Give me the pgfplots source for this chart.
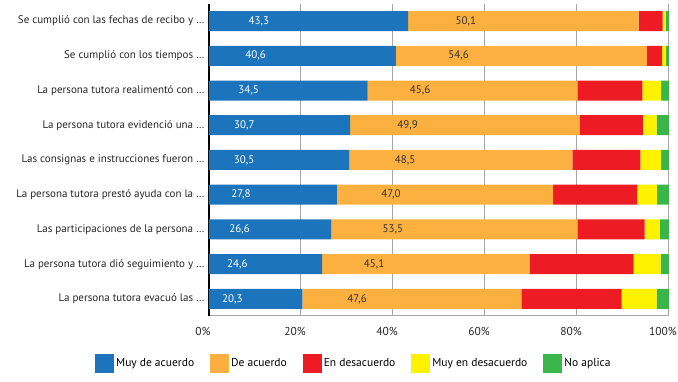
\documentclass[border=0pt]{standalone}
\usepackage{pgfplots}
\pgfplotsset{compat=1.18}
\usepackage{pgfplotstable}
\usepackage{fontspec}
\setmainfont{PT Sans}
\definecolor{cblue}{HTML}{1C75BC}
\definecolor{corange}{HTML}{FBB040}
\definecolor{cred}{HTML}{ED1C24}
\definecolor{cyellow}{HTML}{FFF200}
\definecolor{cgreen}{HTML}{39B54A}
\pgfplotstableread{
i a b c d e
0 43.3 50.1 5.2 0.7 0.7
1 40.6 54.6 3.3 0.9 0.6
2 34.5 45.6 14.1 4.1 1.7
3 30.7 49.9 13.7 3.0 2.7
4 30.5 48.5 14.8 4.5 1.7
5 27.8 47.0 18.3 4.3 2.6
6 26.6 53.5 14.6 3.3 2.0
7 24.6 45.1 22.6 5.9 1.8
8 20.3 47.6 21.8 7.6 2.7
}\data
\begin{document}
\begin{tikzpicture}
\begin{axis}[
  name=ax,
  xbar stacked,
  scale only axis,
  width=460pt, height=312pt,
  xmin=0, xmax=100,
  ymin=-0.49, ymax=8.49,
  bar width=20pt,
  ytick={0,...,8},
  yticklabels={
    La persona tutora evacuó las …,
    La persona tutora dió seguimiento y …,
    Las participaciones de la persona …,
    La persona tutora prestó ayuda con la …,
    Las consignas e instrucciones fueron …,
    La persona tutora evidenció una …,
    La persona tutora realimentó con …,
    Se cumplió con los tiempos …,
    Se cumplió con las fechas de recibo y …},
  xtick={0,20,...,100},
  xticklabel={\pgfmathprintnumber{\tick}\%},
  /pgf/number format/assume math mode=true,
  major tick length=0pt,
  axis lines*=left,
  x axis line style={gray!70, line width=1pt},
  y axis line style={black, line width=2pt},
  xmajorgrids,
  grid style={gray!70, line width=1pt},
  tick label style={font=\fontsize{11.5}{13}\selectfont, text=black!85},
  yticklabel style={font=\fontsize{11}{13}\selectfont, xshift=-1pt},
  xticklabel style={yshift=-8pt, xshift=-6pt},
  legend columns=5,
  legend style={draw=none, at={(axis description cs:0.315,-0.115)}, anchor=north,
    font=\fontsize{11.5}{13}\selectfont,
    /tikz/every even column/.append style={column sep=14pt}},
  legend image code/.code={\fill[#1] (0pt,-9.5pt) rectangle (19pt,9.5pt);},
  point meta=explicit,
  nodes near coords={\pgfmathprintnumber[fixed,fixed zerofill,precision=1,use comma]{\pgfplotspointmeta}},
  every node near coord/.append style={font=\fontsize{11}{13}\selectfont, anchor=center},
]
\addplot[fill=cblue, draw=none, visualization depends on=\thisrow{a}\as\segval,
  nodes near coords style={text=white, xshift=-1.15pt*\segval}]
  table[x=a, y expr=8-\thisrow{i}, meta=a]{\data};
\addplot[fill=corange, draw=none, visualization depends on=\thisrow{b}\as\segval,
  nodes near coords style={text=black!80, xshift=-1.15pt*\segval}]
  table[x=b, y expr=8-\thisrow{i}, meta=b]{\data};
\addplot[fill=cred, draw=none, nodes near coords={}] table[x=c, y expr=8-\thisrow{i}, meta=c]{\data};
\addplot[fill=cyellow, draw=none, nodes near coords={}] table[x=d, y expr=8-\thisrow{i}, meta=d]{\data};
\addplot[fill=cgreen, draw=none, nodes near coords={}] table[x=e, y expr=8-\thisrow{i}, meta=e]{\data};
\legend{Muy de acuerdo, De acuerdo, En desacuerdo, Muy en desacuerdo, No aplica}
\end{axis}
\pgfresetboundingbox
\path[use as bounding box] ([xshift=-209pt,yshift=-66pt]ax.south west) rectangle ++(678pt,382pt);
\end{tikzpicture}
\end{document}
